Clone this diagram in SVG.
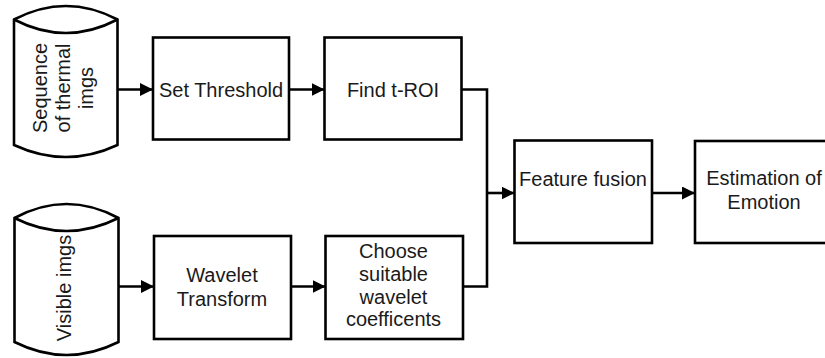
<svg xmlns="http://www.w3.org/2000/svg" width="825" height="358" viewBox="0 0 825 358">
  <style>
    .shape { fill: #ffffff; stroke: #000000; stroke-width: 2.6; stroke-linejoin: miter; }
    .conn { fill: none; stroke: #000000; stroke-width: 2.6; }
    .lbl { font-family: "Liberation Sans", Arial, sans-serif; font-size: 20px; fill: #1a1a1a; text-anchor: middle; }
  </style>
  <defs>
    <marker id="arrow" markerUnits="userSpaceOnUse" markerWidth="14" markerHeight="14" refX="13" refY="6.5" orient="auto">
      <path d="M0,0 L13,6.5 L0,13 z" fill="#000000"/>
    </marker>
  </defs>
  <rect width="825" height="358" fill="#ffffff"/>

  <g id="connectors">
    <line class="conn" x1="118" y1="89.5" x2="153" y2="89.5" marker-end="url(#arrow)"/>
    <line class="conn" x1="289" y1="89.5" x2="324.5" y2="89.5" marker-end="url(#arrow)"/>
    <polyline class="conn" points="461.5,89.5 487,89.5 487,286.5 463,286.5"/>
    <line class="conn" x1="487" y1="193" x2="514.5" y2="193" marker-end="url(#arrow)"/>
    <line class="conn" x1="652" y1="193" x2="695" y2="193" marker-end="url(#arrow)"/>
    <line class="conn" x1="118.5" y1="286.5" x2="154" y2="286.5" marker-end="url(#arrow)"/>
    <line class="conn" x1="291" y1="286.5" x2="325.5" y2="286.5" marker-end="url(#arrow)"/>
  </g>

  <g id="thermal-imgs">
    <path class="shape" d="M14,19.5 Q66,-7.5 117.5,19.5 L117.5,145 Q66,169 14,145 Z"/>
    <path class="conn" d="M14,19.5 Q66,46.5 117.5,19.5"/>
    <text class="lbl" transform="translate(47,88) rotate(-90)">Sequence</text>
    <text class="lbl" transform="translate(70,88) rotate(-90)">of  thermal</text>
    <text class="lbl" transform="translate(93,88) rotate(-90)">imgs</text>
  </g>

  <g id="set-threshold">
    <rect class="shape" x="153" y="37.5" width="136" height="102"/>
    <text class="lbl" x="221" y="97">Set Threshold</text>
  </g>

  <g id="find-troi">
    <rect class="shape" x="324.5" y="37.5" width="137" height="102"/>
    <text class="lbl" x="393" y="97">Find t-ROI</text>
  </g>

  <g id="visible-imgs">
    <path class="shape" d="M14.5,218 Q66.5,190 118.5,218 L118.5,342 Q66.5,368 14.5,342 Z"/>
    <path class="conn" d="M14.5,218 Q66.5,244 118.5,218"/>
    <text class="lbl" transform="translate(71,288) rotate(-90)">Visible imgs</text>
  </g>

  <g id="wavelet-transform">
    <rect class="shape" x="154" y="236" width="137" height="103"/>
    <text class="lbl" x="222" y="281.5">Wavelet</text>
    <text class="lbl" x="222" y="305.5">Transform</text>
  </g>

  <g id="choose-coefficients">
    <rect class="shape" x="325.5" y="236" width="137.5" height="103"/>
    <text class="lbl" x="393.5" y="258">Choose</text>
    <text class="lbl" x="393.5" y="280.8">suitable</text>
    <text class="lbl" x="393.5" y="303.6">wavelet</text>
    <text class="lbl" x="393.5" y="326.4">coefficents</text>
  </g>

  <g id="feature-fusion">
    <rect class="shape" x="514.5" y="140.5" width="137.5" height="102.5"/>
    <text class="lbl" x="583" y="186">Feature fusion</text>
  </g>

  <g id="estimation-emotion">
    <rect class="shape" x="695" y="141" width="138" height="102"/>
    <text class="lbl" x="764" y="185">Estimation of</text>
    <text class="lbl" x="764" y="209">Emotion</text>
  </g>
</svg>
